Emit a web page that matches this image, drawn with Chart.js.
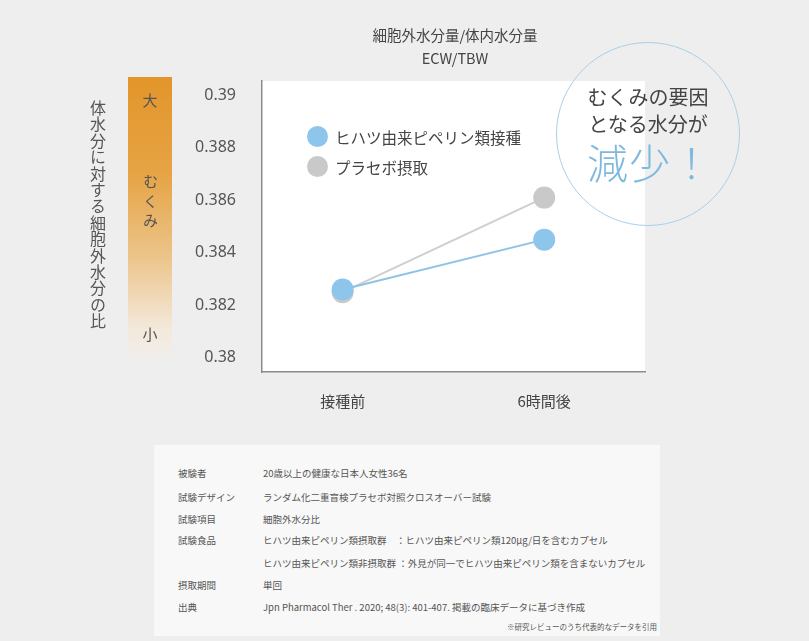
<!DOCTYPE html>
<html lang="ja">
<head>
<meta charset="utf-8">
<script src="https://cdn.jsdelivr.net/npm/chart.js@4.4.0/dist/chart.umd.min.js"></script>
<style>
  html, body { margin:0; padding:0; }
  body { width:809px; height:641px; background:#efeeee; position:relative; overflow:hidden;
         font-family:"Noto Sans CJK JP","Noto Sans",sans-serif; color:#444; }
  #c { position:absolute; left:0; top:0; }
  .abs { position:absolute; white-space:nowrap; }
  #title { left:300px; width:310px; top:23px; text-align:center; font-size:14.5px; line-height:23px; color:#444; }
  #bar { left:128px; top:77px; width:44px; height:280px;
         background:linear-gradient(to bottom,#e3952a 0%,#e6a445 35%,#ecc58c 65%,#f3e9db 90%,#f1eeea 100%); }
  .barlbl { left:128px; width:44px; text-align:center; font-size:15px; color:#555; }
  #vlabel { left:88px; top:100px; writing-mode:vertical-rl; font-size:16px; letter-spacing:0.4px; color:#555; line-height:20px; }
  #mukumi { left:140px; top:174px; writing-mode:vertical-rl; font-size:15px; line-height:20px; color:#555; letter-spacing:4.5px; }
  #circle { left:556px; top:42px; width:182px; height:182px; border:1.5px solid #a9cfe7; border-radius:50%; }
  .ctext { left:548px; width:200px; text-align:center; color:#444; font-size:20px; }
  #big { left:550px; width:200px; top:136px; text-align:center; font-size:41px; line-height:50px; color:#7db8df; font-weight:300; letter-spacing:1px; }
  .leg { font-size:15.5px; color:#444; }
  .dot { width:21px; height:21px; border-radius:50%; }
  #info { left:154px; top:445px; width:506px; height:191px; background:#f8f8f8; }
  .ilab { left:178px; font-size:9.5px; color:#555; }
  .ival { left:263px; font-size:9.5px; color:#555; }
  #foot { right:152px; top:621px; font-size:7.5px; color:#555; }
</style>
</head>
<body>
<canvas id="c" width="809" height="641"></canvas>

<div id="title" class="abs"><div id="t1"></div><div id="t2"></div></div>
<div id="bar" class="abs"></div>
<div class="abs barlbl" style="top:89px" id="bigLbl"></div>
<div class="abs" id="mukumi"></div>
<div class="abs barlbl" style="top:323px" id="smallLbl"></div>
<div class="abs" id="vlabel"></div>

<div class="abs dot" style="left:307px;top:126px;background:#8ec5ea"></div>
<div class="abs leg" style="left:335px;top:126px" id="leg0"></div>
<div class="abs dot" style="left:307px;top:156px;background:#c9c9c9"></div>
<div class="abs leg" style="left:335px;top:156px" id="leg1"></div>

<div id="circle" class="abs"></div>
<div class="abs ctext" style="top:82px" id="c1"></div>
<div class="abs ctext" style="top:109px" id="c2"></div>
<div class="abs" id="big"></div>

<div id="info" class="abs"></div>
<div id="infoRows"></div>
<div class="abs" id="foot"></div>

<script>
// ---- data ----
const categories = ["接種前", "6時間後"];
const piperineValues = [0.3826, 0.3845];
const placeboValues = [0.3825, 0.3861];
const yTicks = [0.39, 0.388, 0.386, 0.384, 0.382, 0.38];
const seriesNames = ["ヒハツ由来ピペリン類接種", "プラセボ摂取"];
const titleLines = ["細胞外水分量/体内水分量", "ECW/TBW"];
const yAxisLabel = "体水分に対する細胞外水分の比";
const barLabels = ["大", "むくみ", "小"];
const calloutLines = ["むくみの要因", "となる水分が", "減少！"];
const infoLabels = ["被験者", "試験デザイン", "試験項目", "試験食品", "", "摂取期間", "出典"];
const infoValues = [
  "20歳以上の健康な日本人女性36名",
  "ランダム化二重盲検プラセボ対照クロスオーバー試験",
  "細胞外水分比",
  "ヒハツ由来ピペリン類摂取群　：ヒハツ由来ピペリン類120μg/日を含むカプセル",
  "ヒハツ由来ピペリン類非摂取群 ：外見が同一でヒハツ由来ピペリン類を含まないカプセル",
  "単回",
  "Jpn Pharmacol Ther . 2020; 48(3): 401-407. 掲載の臨床データに基づき作成"
];
const infoRowTops = [466, 490, 512, 533, 556, 578, 600];
const footnote = "※研究レビューのうち代表的なデータを引用";

// ---- text ----
document.getElementById('t1').textContent = titleLines[0];
document.getElementById('t2').textContent = titleLines[1];
document.getElementById('vlabel').textContent = yAxisLabel;
document.getElementById('bigLbl').textContent = barLabels[0];
document.getElementById('mukumi').textContent = barLabels[1];
document.getElementById('smallLbl').textContent = barLabels[2];
document.getElementById('leg0').textContent = seriesNames[0];
document.getElementById('leg1').textContent = seriesNames[1];
document.getElementById('c1').textContent = calloutLines[0];
document.getElementById('c2').textContent = calloutLines[1];
document.getElementById('big').textContent = calloutLines[2];
document.getElementById('foot').textContent = footnote;
const rows = document.getElementById('infoRows');
infoLabels.forEach((l, i) => {
  const a = document.createElement('div'); a.className = 'abs ilab'; a.style.top = infoRowTops[i] + 'px'; a.textContent = l; rows.appendChild(a);
  const b = document.createElement('div'); b.className = 'abs ival'; b.style.top = infoRowTops[i] + 'px'; b.textContent = infoValues[i]; rows.appendChild(b);
});

// ---- chart ----
const plotBg = {
  id: 'plotBg',
  beforeDraw(chart) {
    const {ctx, chartArea: a} = chart;
    ctx.save(); ctx.fillStyle = '#ffffff';
    ctx.fillRect(a.left, a.top, a.right - a.left, a.bottom - a.top);
    ctx.restore();
  }
};

new Chart(document.getElementById('c'), {
  type: 'line',
  data: {
    datasets: [
      { label: seriesNames[0], data: piperineValues.map((v, i) => ({x: i, y: v})),
        borderColor: '#8ec3e6', backgroundColor: '#8ec5ea', borderWidth: 2,
        pointRadius: 11, pointHoverRadius: 11, pointBorderWidth: 0 },
      { label: seriesNames[1], data: placeboValues.map((v, i) => ({x: i, y: v})),
        borderColor: '#cfcfcf', backgroundColor: '#c9c9c9', borderWidth: 2,
        pointRadius: 11, pointHoverRadius: 11, pointBorderWidth: 0 }
    ]
  },
  options: {
    responsive: false, animation: false, devicePixelRatio: 1,
    layout: { padding: { left: 0, top: 81, right: 164, bottom: 0 } },
    plugins: { legend: { display: false }, tooltip: { enabled: false } },
    scales: {
      x: {
        type: 'linear', min: -0.4, max: 1.5,
        grid: { display: false, drawTicks: false },
        border: { display: true, color: '#8c8c8c', width: 1.5 },
        afterBuildTicks: s => { s.ticks = categories.map((c, i) => ({value: i})); },
        afterFit: s => { s.height = 269; },
        ticks: { padding: 20, color: '#444', font: { family: '"Noto Sans CJK JP"', size: 15 },
                 callback: (v, i) => categories[i], maxRotation: 0, autoSkip: false }
      },
      y: {
        min: 0.37946, max: 0.39054,
        grid: { display: false, drawTicks: false },
        border: { display: true, color: '#8c8c8c', width: 1.5 },
        afterBuildTicks: s => { s.ticks = yTicks.map(v => ({value: v})); },
        afterFit: s => { s.width = 262; },
        ticks: { padding: 26, color: '#555', font: { family: '"Noto Sans", sans-serif', size: 16 },
                 callback: v => String(v) }
      }
    }
  },
  plugins: [plotBg]
});
</script>
</body>
</html>
